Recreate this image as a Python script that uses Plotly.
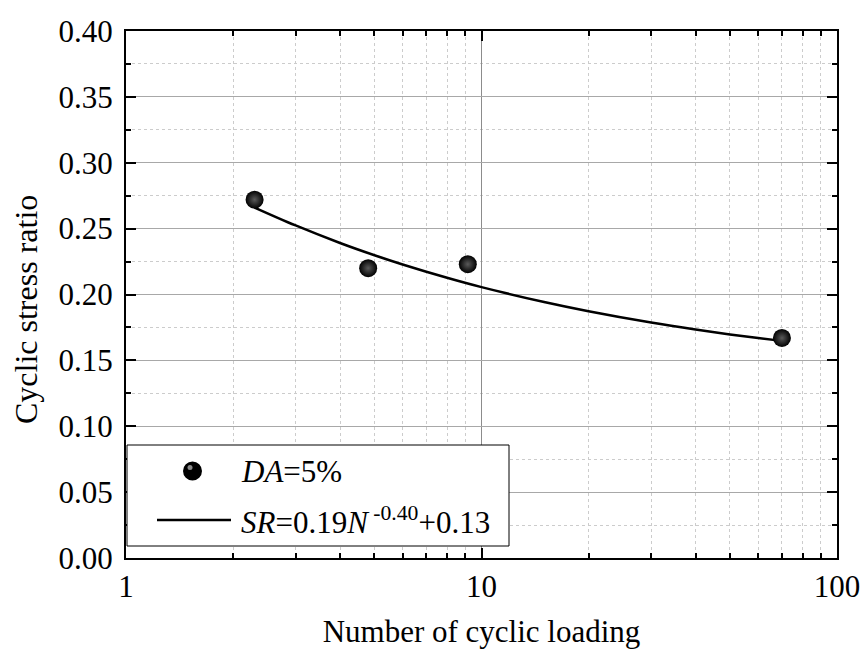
import plotly.graph_objects as go

# Measured data (DA = 5%)
cycles = [2.3, 4.8, 9.15, 70.0]
csr = [0.272, 0.220, 0.223, 0.167]

# Fitted curve SR = 0.19 N^-0.40 + 0.13
fit_n = [2.3, 3, 4, 5, 6, 8, 10, 15, 20, 30, 40, 50, 60, 70]
fit_sr = [0.266, 0.2524, 0.2391, 0.2298, 0.2228, 0.2127, 0.2056, 0.1943,
          0.1873, 0.1787, 0.1734, 0.1697, 0.1670, 0.1648]

x_tickvals = [1, 10, 100]
x_ticktext = ["1", "10", "100"]
y_tickvals = [0.0, 0.05, 0.10, 0.15, 0.20, 0.25, 0.30, 0.35, 0.40]
y_ticktext = ["0.00", "0.05", "0.10", "0.15", "0.20", "0.25", "0.30", "0.35", "0.40"]

x_title = "Number of cyclic loading"
y_title = "Cyclic stress ratio"
legend_point_label = "<i>DA</i>=5%"
legend_fit_label = "<i>SR</i>=0.19<i>N</i><sup> -0.40</sup>+0.13"

FONT = "Liberation Serif"
FS = 31

fig = go.Figure()
fig.add_trace(go.Scatter(
    x=fit_n, y=fit_sr, mode="lines",
    line=dict(color="black", width=2.5, shape="spline"),
    showlegend=False, hoverinfo="skip"))
fig.add_trace(go.Scatter(
    x=cycles, y=csr, mode="markers",
    marker=dict(size=18, color="#000000",
                gradient=dict(type="radial", color="#5a5a5a"),
                line=dict(width=0)),
    showlegend=False))

# Manual legend box (pixel positions converted to paper coordinates)
L = 126.0; R = 837.0; T = 31.0; B = 558.0
W = R - L; H = B - T
def px(x):
    return (x - L) / W
def py(y):
    return (B - y) / H

shapes = [
    dict(type="rect", xref="paper", yref="paper",
         x0=px(127), x1=px(509), y0=py(546), y1=py(445),
         line=dict(color="black", width=1), fillcolor="white", layer="above"),
    dict(type="line", xref="paper", yref="paper",
         x0=px(157), x1=px(231), y0=py(520), y1=py(520),
         line=dict(color="black", width=2.5), layer="above"),
    dict(type="circle", xref="paper", yref="paper",
         x0=px(183), x1=px(202), y0=py(480.5), y1=py(461.5),
         line=dict(width=0), fillcolor="black", layer="above"),
    dict(type="circle", xref="paper", yref="paper",
         x0=px(187.5), x1=px(192.5), y0=py(470), y1=py(465),
         line=dict(width=0), fillcolor="#8a8a8a", layer="above"),
]
annotations = [
    dict(xref="paper", yref="paper", x=px(239), y=py(471), text=legend_point_label,
         showarrow=False, xanchor="left", yanchor="middle",
         font=dict(family=FONT, size=FS, color="black")),
    dict(xref="paper", yref="paper", x=px(239), y=py(520), text=legend_fit_label,
         showarrow=False, xanchor="left", yanchor="middle",
         font=dict(family=FONT, size=FS, color="black")),
    dict(xref="paper", yref="paper", x=px(26), y=py(310), text=y_title,
         textangle=-90, showarrow=False, xanchor="center", yanchor="middle",
         font=dict(family=FONT, size=FS + 1, color="black")),
]

fig.update_layout(
    width=863, height=649,
    margin=dict(l=126, r=26, t=31, b=91, autoexpand=False),
    paper_bgcolor="white", plot_bgcolor="white",
    font=dict(family=FONT, size=FS, color="black"),
    shapes=shapes, annotations=annotations,
    showlegend=False,
)
fig.update_xaxes(
    type="log", range=[0, 2], automargin=False,
    tickvals=x_tickvals, ticktext=x_ticktext,
    ticks="inside", ticklen=10, tickwidth=2, tickcolor="black",
    showline=True, linecolor="black", linewidth=2, mirror="allticks",
    showgrid=True, gridcolor="#8c8c8c", gridwidth=1.2,
    zeroline=False,
    minor=dict(ticks="inside", ticklen=5, tickwidth=1.5, tickcolor="black",
               dtick="D1", showgrid=True, gridcolor="#cccccc",
               griddash="3px,3px", gridwidth=1),
    title=dict(text=x_title, standoff=24,
               font=dict(family=FONT, size=FS, color="black")),
    tickfont=dict(family=FONT, size=FS, color="black"),
)
fig.update_yaxes(
    range=[0, 0.40], automargin=False,
    tickvals=y_tickvals, ticktext=y_ticktext,
    ticks="inside", ticklen=10, tickwidth=2, tickcolor="black",
    showline=True, linecolor="black", linewidth=2, mirror="allticks",
    showgrid=True, gridcolor="#a8a8a8", gridwidth=1.2,
    zeroline=False, ticklabelstandoff=5,
    minor=dict(ticks="inside", ticklen=5, tickwidth=1.5, tickcolor="black",
               dtick=0.025, showgrid=True, gridcolor="#cccccc",
               griddash="3px,3px", gridwidth=1),
    tickfont=dict(family=FONT, size=FS, color="black"),
)

fig.write_html("out.html")
